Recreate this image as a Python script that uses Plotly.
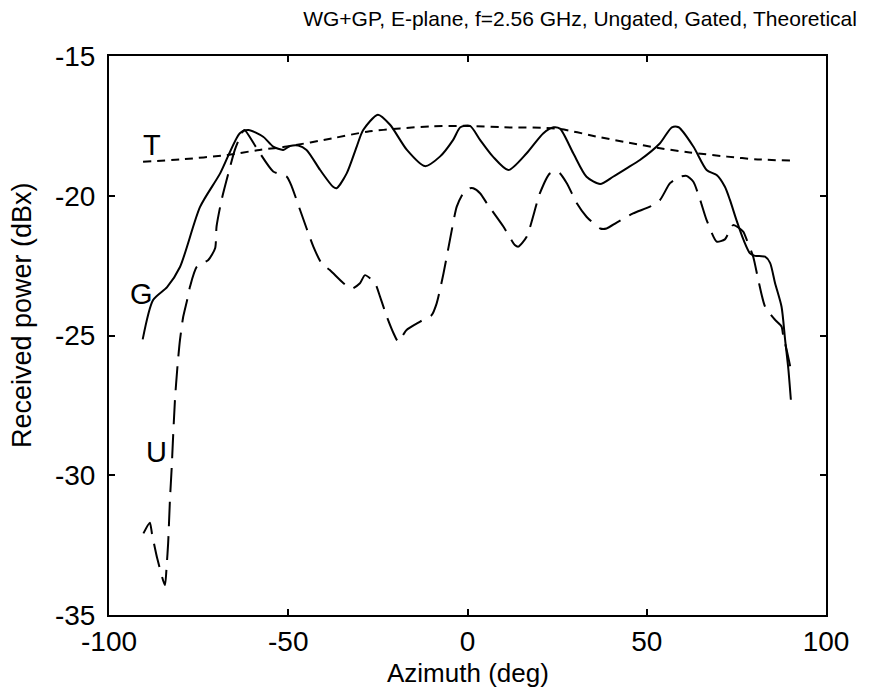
import plotly.graph_objects as go

# Theoretical (T)
t_x = [-90.5, -80, -67, -58, -50.4, -37.5, -28, -18.8, -10, 0, 10, 25, 37, 45, 53.7, 62, 72.4, 81, 90]
t_y = [-18.78, -18.7, -18.54, -18.36, -18.24, -17.94, -17.71, -17.59, -17.52, -17.5, -17.55, -17.6, -17.91, -18.1, -18.3, -18.45, -18.6, -18.7, -18.74]

# Gated (G)
g_x = [-90.6, -87.7, -83.8, -80.2, -74.6, -69, -63.5, -61.1, -57, -54.2, -51.4, -49.5, -47.2, -44.9, -41.1,
       -37.5, -36.5, -33.7, -30.9, -29.1, -25, -21.6, -16.9, -11.9, -7.7, -4, -2, 0.7, 3.5, 7.1, 11.4, 16.5,
       21.1, 24, 25.8, 29.5, 33.2, 37, 40.6, 44.4, 48.1, 53.7, 57, 58.9, 63, 66.7, 69.5, 71.8, 73.2, 75.1,
       77, 78.8, 80.2, 83, 84.4, 85.8, 87.6, 88.6, 89.5, 90.2]
g_y = [-25.14, -23.73, -23.27, -22.55, -20.4, -19.2, -17.76, -17.65, -17.89, -18.24, -18.36, -18.22, -18.2, -18.36, -19.08,
       -19.68, -19.73, -19.2, -18.24, -17.65, -17.1, -17.46, -18.36, -18.94, -18.6, -18.0, -17.55, -17.5, -18.0, -18.6, -19.08, -18.48,
       -17.77, -17.55, -17.6, -18.48, -19.32, -19.58, -19.32, -19.02, -18.72, -18.12, -17.55, -17.55, -18.24, -19.08, -19.26, -19.68, -20.15, -20.9,
       -21.58, -22.06, -22.15, -22.18, -22.4, -23.13, -23.97, -25.16, -26.2, -27.3]

# Ungated (U)
u_x = [-90.4, -88.6, -88, -86.5, -84.4, -83.9, -83.5, -83, -82.5, -82.2, -81.6, -80.9, -80.2, -79.3, -78.2,
       -77.4, -75.5, -72.3, -70.4, -70, -68.6, -66.7, -64.9, -63, -62.2, -58.8, -54.2, -50.4, -49, -46.7,
       -43, -40.7, -38.4, -34.6, -32.4, -30, -28.6, -25.8, -24.4, -22.5, -20.7, -19.3, -17, -13.2, -10,
       -8.6, -6.7, -4.9, -3, -1.2, 0.7, 1.6, 3.5, 5.4, 10, 13.2, 14.2, 16.5, 20.2, 23, 25.3, 27.7, 30.5,
       33.2, 37, 38.8, 41.6, 46.2, 50.9, 53.7, 56.5, 59.3, 61.1, 63, 64.9, 66.7, 69.5, 71.8, 74.1, 76.9,
       77.9, 79.7, 81.1, 83, 85.8, 87.6, 88.1, 89, 90]
u_y = [-32.08, -31.7, -32.1, -33.0, -33.93, -33.2, -32.43, -30.88, -29.7, -28.85, -27.3, -26.1, -25.16, -24.33, -23.73,
       -23.25, -22.54, -22.3, -21.88, -21.1, -20.15, -19.2, -18.36, -17.77, -17.65, -18.3, -19.13, -19.32, -19.68, -20.51,
       -21.82, -22.42, -22.66, -23.13, -23.33, -23.13, -22.84, -23.13, -23.61, -24.33, -24.9, -25.22, -24.8, -24.5, -24.27,
       -23.85, -22.78, -21.58, -20.39, -19.91, -19.73, -19.73, -19.91, -20.27, -21.1, -21.76, -21.82, -21.47, -19.91, -19.2, -19.14, -19.55, -20.27,
       -20.75, -21.17, -21.17, -20.96, -20.63, -20.39, -20.15, -19.55, -19.32, -19.29, -19.5, -20.15, -20.87, -21.64, -21.56, -21.05, -21.28,
       -21.58, -22.18, -23.0, -23.97, -24.44, -24.68, -25.04, -25.5, -26.1]

x_ticks = [-100, -50, 0, 50, 100]
y_ticks = [-35, -30, -25, -20, -15]

labels = ["T", "G", "U"]
label_x = [-87.9, -90.8, -86.7]
label_y = [-18.2, -23.52, -29.16]

FONT = "Liberation Sans, Arial, sans-serif"

fig = go.Figure()
fig.add_trace(go.Scatter(x=t_x, y=t_y, mode="lines", name="Theoretical",
                         line=dict(color="black", width=2, dash="8px,6px", shape="spline", smoothing=0.8)))
fig.add_trace(go.Scatter(x=g_x, y=g_y, mode="lines", name="Gated",
                         line=dict(color="black", width=2, shape="spline", smoothing=0.7)))
fig.add_trace(go.Scatter(x=u_x, y=u_y, mode="lines", name="Ungated",
                         line=dict(color="black", width=2, dash="24px,10px", shape="spline", smoothing=0.6)))

for t, lx, ly in zip(labels, label_x, label_y):
    fig.add_annotation(x=lx, y=ly, xref="x", yref="y", text=t, showarrow=False,
                       xanchor="center", yanchor="middle",
                       font=dict(family=FONT, size=29, color="black"))

fig.add_annotation(x=0.5, y=-0.104, xref="paper", yref="paper", text="Azimuth (deg)",
                   showarrow=False, xanchor="center", yanchor="middle",
                   font=dict(family=FONT, size=26, color="black"))
fig.add_annotation(x=-0.121, y=0.537, xref="paper", yref="paper", text="Received power (dBx)",
                   showarrow=False, xanchor="center", yanchor="middle", textangle=-90,
                   font=dict(family=FONT, size=27, color="black"))

fig.update_layout(
    width=877, height=696,
    margin=dict(l=109, r=51, t=56, b=81),
    paper_bgcolor="white", plot_bgcolor="white",
    showlegend=False,
    title=dict(text="WG+GP, E-plane, f=2.56 GHz, Ungated, Gated, Theoretical",
               x=0.657, xref="paper", xanchor="center",
               y=1 - 19 / 696, yref="container", yanchor="middle",
               font=dict(family=FONT, size=21, color="black")),
)
fig.update_xaxes(range=[-100, 100], tickvals=x_ticks, ticktext=[str(v) for v in x_ticks],
                 ticks="inside", ticklen=6, tickwidth=1.5, tickcolor="black",
                 showline=True, linecolor="black", linewidth=2, mirror="ticks",
                 showgrid=False, zeroline=False,
                 tickfont=dict(family=FONT, size=28, color="black"))
fig.update_yaxes(range=[-35, -15], tickvals=y_ticks, ticktext=[str(v) for v in y_ticks],
                 ticks="inside", ticklen=6, tickwidth=1.5, tickcolor="black",
                 showline=True, linecolor="black", linewidth=2, mirror="ticks",
                 showgrid=False, zeroline=False, ticklabelstandoff=6,
                 tickfont=dict(family=FONT, size=28, color="black"))

fig.write_html("out.html")
